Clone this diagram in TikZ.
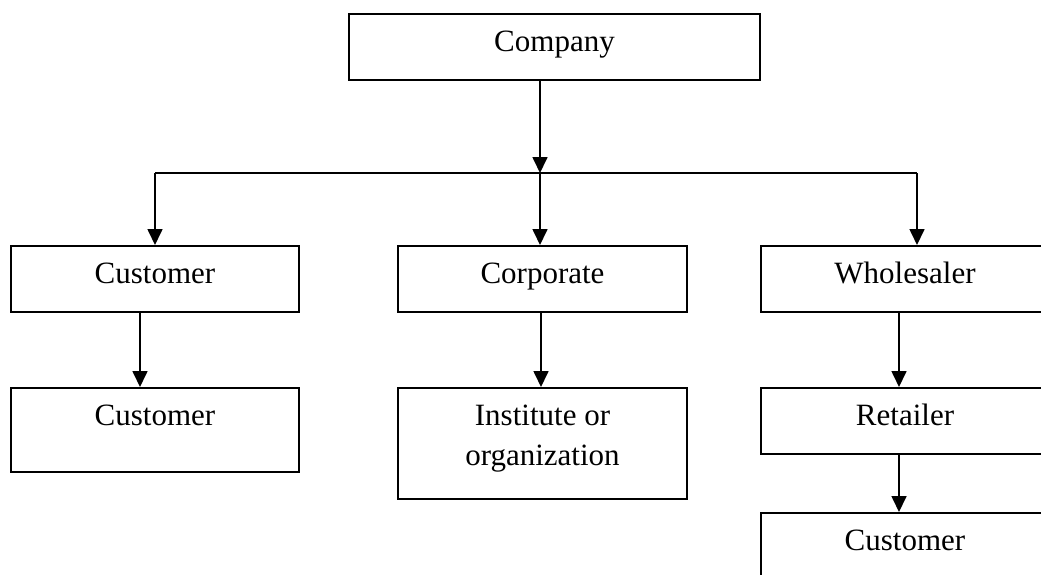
\documentclass[tikz,border=0pt]{standalone}
\usepackage{fontspec}
\setmainfont{Liberation Serif}
\usetikzlibrary{arrows.meta}
\begin{document}
\begin{tikzpicture}[x=1pt,y=1pt,
  box/.style={draw, line width=1.8pt, inner sep=0pt, minimum width=288pt,
    text height=38pt, text depth=28pt, font=\fontsize{31}{40}\selectfont},
  tallbox/.style={box, text depth=46pt},
  arr/.style={line width=1.7pt, -{Triangle[length=16pt,width=15pt]}},
  conn/.style={line width=1.7pt}]
\useasboundingbox (0,0) rectangle (1041,-575);
\clip (0,0) rectangle (1041,-575);
\fill[white] (0,0) rectangle (1041,-575);
% nodes
\node[box, minimum width=411pt, anchor=north] (company) at (554.5,-13) {Company};
\node[box, anchor=north] (cust1) at (155,-245) {Customer};
\node[tallbox, anchor=north] (cust2) at (155,-387) {Customer};
\node[box, minimum width=289pt, anchor=north] (corp) at (542.5,-245) {Corporate};
\node[box, minimum width=289pt, text depth=73pt, anchor=north] (inst) at (542.5,-387)
  {\begin{tabular}[t]{@{}c@{}}Institute or\\organization\end{tabular}};
\node[box, anchor=north] (whole) at (905,-245) {Wholesaler};
\node[box, anchor=north] (retail) at (905,-387) {Retailer};
\node[tallbox, anchor=north] (cust3) at (905,-512) {Customer};
% junction coordinates
\coordinate (jm) at (540,-173);
\coordinate (jl) at (155,-173);
\coordinate (jr) at (917,-173);
\coordinate (xc) at (140,0);
\coordinate (xi) at (541,0);
\coordinate (xr) at (899,0);
% connectors
\draw[arr] (company.south -| jm) -- (jm);
\draw[conn] (jl) -- (jr);
\draw[arr] (jl) -- (jl |- cust1.north);
\draw[arr] (jm) -- (jm |- corp.north);
\draw[arr] (jr) -- (jr |- whole.north);
\draw[arr] (cust1.south -| xc) -- (cust2.north -| xc);
\draw[arr] (corp.south -| xi) -- (inst.north -| xi);
\draw[arr] (whole.south -| xr) -- (retail.north -| xr);
\draw[arr] (retail.south -| xr) -- (cust3.north -| xr);
\end{tikzpicture}
\end{document}
